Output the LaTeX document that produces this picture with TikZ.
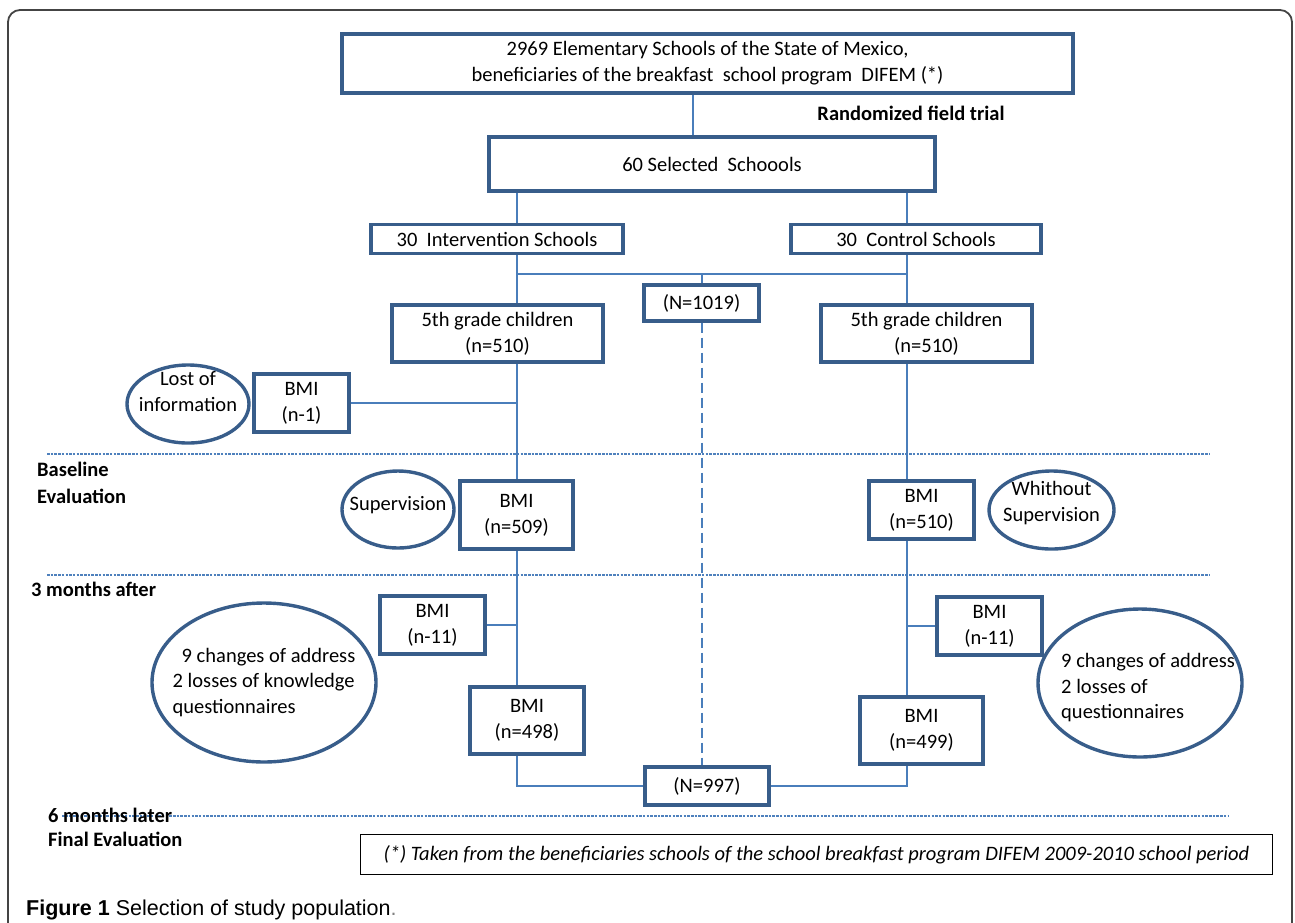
\documentclass[tikz,border=0pt]{standalone}
\usepackage{fontspec}
\setmainfont{Carlito}
\newfontfamily\capfont{Liberation Sans}
\usetikzlibrary{shapes.geometric,calc}
\definecolor{boxblue}{HTML}{385D8A}
\definecolor{lineblue}{HTML}{4A7EBB}
\definecolor{dotblue}{HTML}{4F81BD}
\definecolor{framegray}{HTML}{444444}
\newcommand\bodyfont{\fontsize{20.5}{26}\selectfont}
\newcommand\ellfont{\fontsize{20.5}{25.5}\selectfont}
\tikzset{
  box/.style={draw=boxblue, line width=3.4pt, inner sep=0pt, align=center, font=\bodyfont},
  oval/.style={ellipse, draw=boxblue, line width=3.4pt, inner sep=0pt},
  conn/.style={draw=lineblue, line width=1.3pt},
  dashconn/.style={draw=lineblue, line width=2pt, dash pattern=on 10pt off 5pt},
  sepline/.style={draw=dotblue, line width=2.4pt, dash pattern=on 2.5pt off 1.2pt},
  lbl/.style={font=\bodyfont\bfseries, anchor=west, inner sep=0pt},
}
\begin{document}
\begin{tikzpicture}[x=1pt,y=-1pt]
\useasboundingbox (0,0) rectangle (1295,922);
% frame
\draw[framegray, line width=1.8pt, rounded corners=12pt] (8,930) -- (8,10) -- (1292,10) -- (1292,930);

% separators
\draw[sepline] (47,454) -- (1210,454);
\draw[sepline] (47,575) -- (1210,575);
\draw[sepline] (62,816) -- (1229,816);

% nodes
\node[box, minimum width=731, minimum height=59] (top) at (707.5,63.5)
  {2969 Elementary Schools of the State of Mexico,\\ beneficiaries of the breakfast\ \ school program\ \ DIFEM (*)};
\node[lbl, anchor=center] (rft) at (911,113) {Randomized field trial};
\node[box, minimum width=446, minimum height=54] (sixty) at (712,164) {60 Selected\ \ Schoools};
\node[box, minimum width=252, minimum height=29] (int) at (497,239) {30\ \ Intervention Schools};
\node[box, minimum width=250, minimum height=29] (ctl) at (916,239) {30\ \ Control Schools};
\node[box, minimum width=115, minimum height=36] (n1019) at (701.5,303) {(N=1019)};
\node[box, minimum width=211, minimum height=57] (lgrade) at (497.5,333.5) {5th grade children\\(n=510)};
\node[box, minimum width=211, minimum height=57] (rgrade) at (926.5,333.5) {5th grade children\\(n=510)};

\node[oval, minimum width=122, minimum height=78,
  label={[font=\bodyfont, align=center, yshift=12pt]center:Lost of\\information}] (lost) at (188,404) {};
\node[box, minimum width=95, minimum height=58] (bn1) at (301.5,403) {BMI\\(n-1)};

\node[oval, minimum width=112, minimum height=77,
  label={[font=\bodyfont, yshift=4pt]center:Supervision}] (sup) at (398,509.5) {};
\node[box, minimum width=113, minimum height=68] (b509) at (516.5,515) {BMI\\(n=509)};
\node[box, minimum width=105, minimum height=58] (b510) at (921.5,510) {BMI\\(n=510)};
\node[oval, minimum width=125, minimum height=78,
  label={[font=\bodyfont, align=center, yshift=7pt]center:Whithout\\Supervision}] (wsup) at (1051.5,510) {};

\node[box, minimum width=105, minimum height=58] (bl11) at (432.5,625) {BMI\\(n-11)};
\node[oval, minimum width=224, minimum height=159,
  label={[font=\ellfont, align=left]center:\hspace{9pt}9 changes of address\\2 losses of knowledge\\questionnaires}] (lell) at (264,682.5) {};
\node[box, minimum width=114, minimum height=67] (b498) at (527,720.5) {BMI\\(n=498)};

\node[box, minimum width=105, minimum height=58] (br11) at (989.5,626) {BMI\\(n-11)};
\node[oval, minimum width=204, minimum height=148,
  label={[font=\ellfont, align=left, xshift=8pt, yshift=-5pt]center:9 changes of address\\2 losses of\\questionnaires}] (rell) at (1140,683) {};
\node[box, minimum width=123, minimum height=67] (b499) at (921.5,730.5) {BMI\\(n=499)};

\node[box, minimum width=124, minimum height=38] (n997) at (707,786) {(N=997)};

\node[draw=black, line width=1.5pt, minimum width=912, minimum height=40, inner sep=0pt, font=\bodyfont\itshape] (foot) at (816.5,854.5)
  {(*) Taken from the beneficiaries schools of the school breakfast program DIFEM 2009-2010 school period};

% side labels
\node[lbl] (base) at (37,469) {Baseline};
\node[lbl] (eval) at (37,496) {Evaluation};
\node[lbl] (m3) at (31,589) {3 months after};
\node[lbl] (m6) at (48,815) {6 months later};
\node[lbl] (fin) at (48,839) {Final Evaluation};

\node[anchor=west, inner sep=0pt, font=\capfont\fontsize{21.5}{24}\selectfont] (cap) at (26,910)
  {\textbf{Figure 1} Selection of study population\textcolor{gray}{.}};

% connectors
\coordinate (Lx) at (517,0);
\coordinate (Rx) at (907,0);
\coordinate (Tx) at (693,0);
\coordinate (jM) at (702,274);
\draw[conn] (top.south -| Tx) -- (sixty.north -| Tx);
\draw[conn] (sixty.south -| Lx) -- (int.north -| Lx);
\draw[conn] (sixty.south -| Rx) -- (ctl.north -| Rx);
\draw[conn] (int.south -| Lx) -- (lgrade.north -| Lx);
\draw[conn] (ctl.south -| Rx) -- (rgrade.north -| Rx);
\draw[conn] (jM -| Lx) -- (jM -| Rx);
\draw[conn] (jM) -- (n1019.north -| jM);
\draw[conn] (lgrade.south -| Lx) -- (b509.north -| Lx);
\draw[conn] (bn1.east) -- (bn1.east -| Lx);
\draw[conn] (b509.south -| Lx) -- (b498.north -| Lx);
\draw[conn] (bl11.east) -- (bl11.east -| Lx);
\draw[conn] (b498.south -| Lx) |- (n997.west);
\draw[conn] (rgrade.south -| Rx) -- (b510.north -| Rx);
\draw[conn] (b510.south -| Rx) -- (b499.north -| Rx);
\draw[conn] (br11.west -| Rx) -- (br11.west);
\draw[conn] (b499.south -| Rx) |- (n997.east);
\draw[dashconn] (n1019.south) -- (n1019.south |- n997.north);
\end{tikzpicture}
\end{document}
